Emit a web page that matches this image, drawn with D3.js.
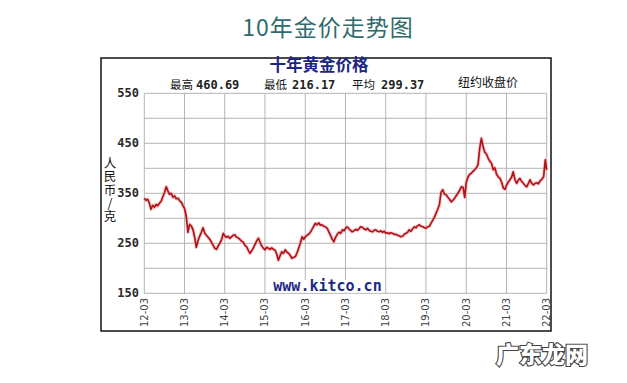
<!DOCTYPE html>
<html><head><meta charset="utf-8">
<script src="https://cdn.jsdelivr.net/npm/d3@7"></script>
<style>body{margin:0;background:#fff}svg{display:block}</style>
</head><body>
<svg id="c" width="627" height="383"></svg>
<script>
const pageTitle = "10年金价走势图";
const chartTitle = "十年黄金价格";
const statLabels = ["最高", "最低", "平均"];
const statValues = ["460.69", "216.17", "299.37"];
const sourceNote = "纽约收盘价";
const yAxisTitle = "人民币/克";
const yTicks = [150, 200, 250, 300, 350, 400, 450, 500, 550];
const yTickLabels = [150, 250, 350, 450, 550];
const xTickYears = [2012, 2013, 2014, 2015, 2016, 2017, 2018, 2019, 2020, 2021, 2022];
const xTickLabels = ["12-03","13-03","14-03","15-03","16-03","17-03","18-03","19-03","20-03","21-03","22-03"];
const siteText = "www.kitco.cn";
const watermark = "广东龙网";
// semi-monthly closes from 2012-03 to 2022-03 (CNY/gram)
const priceValues = [
340,336, 338,330, 318,326, 322,328, 325,330, 334,343, 352,363, 355,348, 350,342, 345,339, 340,335, 332,325,
320,305, 272,288, 285,278, 262,242, 255,264, 272,281, 270,266, 262,258, 252,246, 240,238, 245,250, 258,270,
265,262, 264,260, 263,266, 267,262, 261,258, 254,252, 246,243, 236,230, 235,241, 248,255, 260,252, 244,240,
237,242, 240,238, 241,238, 236,228, 216,225, 233,230, 237,232, 230,226, 220,222, 223,230, 240,250, 263,258,
263,266, 268,272, 278,284, 290,287, 291,286, 287,284, 283,280, 273,266, 258,253, 262,268, 272,270, 277,275,
280,283, 279,276, 273,275, 278,276, 279,283, 282,279, 277,280, 276,274, 273,276, 277,274, 273,275, 272,274,
270,271, 269,271, 270,268, 268,266, 265,263, 264,268, 270,272, 277,274, 279,283, 281,285, 287,284, 283,281,
280,283, 284,290, 296,302, 310,318, 327,352, 357,348, 347,342, 338,333, 336,340, 345,350, 356,363, 362,342,
372,382, 388,390, 394,397, 401,408, 440,460, 443,432, 428,420, 414,410, 397,401, 388,383, 380,372, 360,358,
366,372, 377,382, 393,378, 370,376, 380,374, 370,366, 363,370, 377,370, 367,370, 371,369, 375,378, 383,417,
397
];

const svg = d3.select("#c");
const L = 144.3, R = 546.7, T = 93.3, B = 293.3;
const x = d3.scaleTime().domain([new Date(2012,2,1), new Date(2022,2,1)]).range([L, R]);
const y = d3.scaleLinear().domain([150, 550]).range([B, T]);
const data = priceValues.map((v,i) => ({d: new Date(2012, 2 + Math.floor(i/2), i%2 ? 16 : 1), v}));

// page title
svg.append("text").attr("x", 328).attr("y", 36).attr("text-anchor","middle")
  .attr("font-family","'Noto Sans CJK SC','Noto Sans',sans-serif").attr("font-size",23)
  .attr("letter-spacing",1).attr("fill","#2f6b6c").text(pageTitle);

// frame
svg.append("rect").attr("x",101).attr("y",58).attr("width",450).attr("height",273)
  .attr("fill","#fff").attr("stroke","#111").attr("stroke-width",1.5);

// grid
const g = svg.append("g");
g.selectAll(".hy").data(yTicks).join("line")
  .attr("x1", L).attr("x2", R).attr("y1", d=>y(d)).attr("y2", d=>y(d))
  .attr("stroke","#b4b4b4").attr("stroke-width",1);
const xt = xTickYears.map(yr => new Date(yr,2,1));
g.selectAll(".vx").data(xt).join("line")
  .attr("x1", d=>x(d)).attr("x2", d=>x(d)).attr("y1", T).attr("y2", B)
  .attr("stroke","#b4b4b4").attr("stroke-width",1);

// y labels
svg.selectAll(".yl").data(yTickLabels).join("text")
  .attr("x", 139).attr("y", d=>y(d)+4).attr("text-anchor","end")
  .attr("font-family","'DejaVu Sans Mono',monospace").attr("font-weight","bold")
  .attr("font-size",12).attr("fill","#2a2a2a").text(d=>d);

// x labels rotated
svg.selectAll(".xl").data(xt).join("text")
  .attr("transform", d=>`translate(${x(d)+3.5},298) rotate(-90)`)
  .attr("text-anchor","end")
  .attr("font-family","'DejaVu Sans',sans-serif").attr("font-size",10)
  .attr("fill","#444").text((d,i)=>xTickLabels[i]);

// y axis title (vertical)
svg.append("text").attr("x",110).attr("y",157)
  .attr("font-family","'Noto Sans CJK SC',sans-serif")
  .attr("font-size",12.5).attr("fill","#111")
  .attr("letter-spacing",0.8)
  .style("writing-mode","vertical-rl").style("text-orientation","upright")
  .text(yAxisTitle);

// chart title
svg.append("text").attr("x",319).attr("y",70.5).attr("text-anchor","middle")
  .attr("font-family","'Noto Sans CJK SC',sans-serif").attr("font-weight","bold")
  .attr("font-size",16.5).attr("fill","#1d2682").text(chartTitle);

// stats
const sx = [170, 264, 352], nx = [196, 292, 381];
statLabels.forEach((s,i)=>{
  svg.append("text").attr("x",sx[i]).attr("y",89).attr("font-family","'Noto Sans CJK SC',sans-serif")
    .attr("font-size",11.5).attr("fill","#111").text(s);
  svg.append("text").attr("x",nx[i]).attr("y",89).attr("font-family","'DejaVu Sans Mono',monospace")
    .attr("font-weight","bold").attr("font-size",12).attr("fill","#222").text(statValues[i]);
});
svg.append("text").attr("x",458).attr("y",87).attr("font-family","'Noto Sans CJK SC',sans-serif")
  .attr("font-size",12).attr("fill","#111").text(sourceNote);

// site text
svg.append("rect").attr("x",272).attr("y",280).attr("width",111).attr("height",12.5).attr("fill","#fff");
svg.append("text").attr("x",327.5).attr("y",291).attr("text-anchor","middle")
  .attr("font-family","'DejaVu Sans Mono',monospace").attr("font-weight","bold")
  .attr("font-size",15).attr("fill","#1c2a86").text(siteText);

// price line
const line = d3.line().x(d=>x(d.d)).y(d=>y(d.v));
svg.append("path").datum(data).attr("d", line).attr("fill","none")
  .attr("stroke","#f0a8a8").attr("stroke-width",3.6).attr("stroke-linejoin","round").attr("opacity",0.55);
svg.append("path").datum(data).attr("d", line).attr("fill","none")
  .attr("stroke","#b3141b").attr("stroke-width",1.7).attr("stroke-linejoin","round");

// watermark
svg.append("text").attr("x",542).attr("y",363).attr("text-anchor","middle")
  .attr("font-family","'Noto Sans CJK SC',sans-serif").attr("font-weight","900")
  .attr("font-size",23).attr("fill","#fff").attr("stroke","#444").attr("stroke-width",2.2)
  .attr("paint-order","stroke").text(watermark);
</script>
</body></html>
